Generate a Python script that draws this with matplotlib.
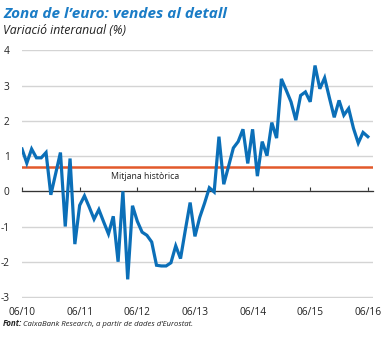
import numpy as np
import matplotlib
matplotlib.use('Agg')
import matplotlib.pyplot as plt

# monthly retail sales, year-on-year change (%), Jun 2010 .. Jun 2016
vendes = [1.2, 0.8, 1.2, 0.95, 0.95, 1.1, -0.1, 0.5, 1.1, -1.0, 0.93, -1.5,
          -0.4, -0.13, -0.45, -0.79, -0.52, -0.87, -1.21, -0.71, -2.0, 0.0, -2.5, -0.41,
          -0.85, -1.16, -1.25, -1.44, -2.1, -2.12, -2.12, -2.03, -1.55, -1.91, -1.1, -0.32,
          -1.28, -0.74, -0.34, 0.1, -0.02, 1.55, 0.2, 0.71, 1.23, 1.41, 1.76, 0.79,
          1.76, 0.43, 1.41, 1.01, 1.95, 1.51, 3.19, 2.87, 2.54, 2.02, 2.72, 2.82,
          2.54, 3.57, 2.91, 3.22, 2.65, 2.1, 2.58, 2.16, 2.35, 1.79, 1.37, 1.67,
          1.55]
mitjana = 0.7
xticks = [0, 12, 24, 36, 48, 60, 72]
xlabels = ['06/10', '06/11', '06/12', '06/13', '06/14', '06/15', '06/16']
yticks = [-3, -2, -1, 0, 1, 2, 3, 4]

blue = '#0b6fb8'
orange = '#e2592b'

plt.rcParams['font.family'] = ['Open Sans', 'DejaVu Sans']

fig = plt.figure(figsize=(3.89, 3.38), dpi=100)
ax = fig.add_axes([0.0566, 0.1183, 0.9014, 0.7337])

x = np.arange(len(vendes))
ax.axhline(mitjana, color=orange, lw=1.8, zorder=2)
ax.plot(x, vendes, color=blue, lw=2.3, solid_joinstyle='miter', zorder=3)
ax.text(18.5, 0.41, 'Mitjana històrica', fontsize=6.3, color='#222222', va='center')

ax.set_xlim(0, 73)
ax.set_ylim(-3.03, 4.01)
ax.set_yticks(yticks)
ax.set_yticklabels([str(v) for v in yticks])
ax.grid(axis='y', color='#d4d4d4', lw=1)
ax.set_axisbelow(True)
for s in ['top', 'right', 'left']:
    ax.spines[s].set_visible(False)
ax.spines['bottom'].set_position(('data', 0))
ax.spines['bottom'].set_color('#333333')
ax.spines['bottom'].set_linewidth(0.9)
ax.set_xticks(xticks)
ax.set_xticklabels(xlabels)
ax.tick_params(axis='x', direction='in', length=3, width=0.8, color='#333333',
               pad=83, labelsize=7.3, labelcolor='#222222')
ax.tick_params(axis='y', length=0, pad=9, labelsize=7.3, labelcolor='#222222')

fig.text(0.008, 0.948, 'Zona de l\u2019euro: vendes al detall', fontsize=11,
         fontweight='bold', style='italic', color='#1a7cc6', va='baseline')
fig.text(0.008, 0.898, 'Variació interanual (%)', fontsize=8.8, style='italic',
         color='#222222', va='baseline')
fig.text(0.008, 0.035, 'Font:', fontsize=5.8, fontweight='bold', style='italic',
         color='#222222', va='baseline')
fig.text(0.058, 0.035, 'CaixaBank Research, a partir de dades d\u2019Eurostat.',
         fontsize=5.6, style='italic', color='#222222', va='baseline')

fig.savefig('out.png', dpi=100)
